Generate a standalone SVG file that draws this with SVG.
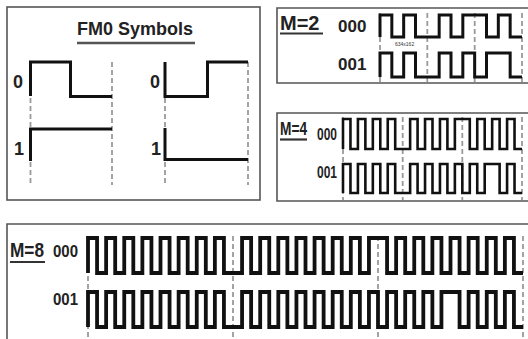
<svg xmlns="http://www.w3.org/2000/svg" width="528" height="339" viewBox="0 0 528 339">
<style>
.frame{fill:none;stroke:#555;stroke-width:1.6}
.lbl{font-family:"Liberation Sans",Arial,sans-serif;font-weight:bold;fill:#222}
.ul{stroke:#333;stroke-width:2.2}
.dash{stroke:#9a9a9a;stroke-width:1.8;stroke-dasharray:5 3;fill:none}
.w{fill:none;stroke:#111;stroke-linejoin:miter;vector-effect:non-scaling-stroke}
.w2{stroke-width:3}
.w4{stroke-width:2.6}
.w8{stroke-width:3.8}
.fm{fill:none;stroke:#111;stroke-width:3}
</style>
<rect width="528" height="339" fill="#fff"/>

<g id="fm0">
<rect class="frame" x="7" y="7" width="253" height="193"/>
<text class="lbl" x="135" y="35" font-size="18" text-anchor="middle">FM0 Symbols</text>
<line x1="77" y1="43" x2="195" y2="43" stroke="#555" stroke-width="2.5"/>
<text class="lbl" x="13" y="88" font-size="18">0</text>
<text class="lbl" x="14" y="155" font-size="18">1</text>
<text class="lbl" x="150" y="88" font-size="18">0</text>
<text class="lbl" x="151" y="155" font-size="18">1</text>
<g class="dash">
<line x1="30.5" y1="98" x2="30.5" y2="185"/>
<line x1="112" y1="62" x2="112" y2="185"/>
<line x1="165" y1="98" x2="165" y2="185"/>
<line x1="248" y1="62" x2="248" y2="185"/>
</g>
<path class="fm" d="M30.5,96 V62 H70.5 V96.5 H112"/>
<path class="fm" d="M30.5,161 V129 H112"/>
<path class="fm" d="M165,62 V96.5 H207.5 V62 H248"/>
<path class="fm" d="M165,128 V159.5 H248"/>
</g>

<g id="m2">
<path class="frame" d="M528,8 H277 V83 H528"/>
<text class="lbl" x="280" y="30" font-size="20">M=2</text>
<line class="ul" x1="280" y1="33.5" x2="323" y2="33.5"/>
<text class="lbl" x="338" y="32" font-size="17">000</text>
<text class="lbl" x="338" y="70" font-size="17">001</text>
<g class="dash">
<line x1="380" y1="13" x2="380" y2="82"/>
<line x1="427.3" y1="13" x2="427.3" y2="82"/>
<line x1="474.7" y1="13" x2="474.7" y2="82"/>
<line x1="522" y1="13" x2="522" y2="82"/>
</g>
<path class="w w2" transform="translate(380,15) scale(11.833,22)" d="M0,1 V0 H1 V1 H2 V0 H3 V1 H5 V0 H6 V1 H7 V0 H9 V1 H10 V0 H11 V1 H12"/>
<path class="w w2" transform="translate(380,53) scale(11.833,24)" d="M0,1 V0 H1 V1 H2 V0 H3 V1 H5 V0 H6 V1 H7 V0 H8 V1 H9 V0 H11 V1 H12"/>
<text x="395" y="46" font-family="Liberation Sans,Arial,sans-serif" font-size="5" fill="#333">634x162</text>
</g>

<g id="m4">
<path class="frame" d="M528,113 H277 V201 H528"/>
<text class="lbl" x="280" y="135" font-size="18" textLength="27" lengthAdjust="spacingAndGlyphs">M=4</text>
<line class="ul" x1="280" y1="139.5" x2="307" y2="139.5"/>
<text class="lbl" x="317" y="140" font-size="17" textLength="20" lengthAdjust="spacingAndGlyphs">000</text>
<text class="lbl" x="317" y="178" font-size="17" textLength="20" lengthAdjust="spacingAndGlyphs">001</text>
<g class="dash">
<line x1="343" y1="117" x2="343" y2="200"/>
<line x1="402.7" y1="117" x2="402.7" y2="200"/>
<line x1="462.3" y1="117" x2="462.3" y2="200"/>
<line x1="522" y1="117" x2="522" y2="200"/>
</g>
<path class="w w4" transform="translate(343,119) scale(7.458,30)" d="M0,1 V0 H1 V1 H2 V0 H3 V1 H4 V0 H5 V1 H6 V0 H7 V1 H9 V0 H10 V1 H11 V0 H12 V1 H13 V0 H14 V1 H15 V0 H17 V1 H18 V0 H19 V1 H20 V0 H21 V1 H22 V0 H23 V1 H24"/>
<path class="w w4" transform="translate(343,164) scale(7.458,29)" d="M0,1 V0 H1 V1 H2 V0 H3 V1 H4 V0 H5 V1 H6 V0 H7 V1 H9 V0 H10 V1 H11 V0 H12 V1 H13 V0 H14 V1 H15 V0 H16 V1 H17 V0 H18 V1 H19 V0 H21 V1 H22 V0 H23 V1 H24"/>
</g>

<g id="m8">
<path class="frame" d="M528,224 H7 V339"/>
<text class="lbl" x="10" y="257" font-size="21" textLength="34" lengthAdjust="spacingAndGlyphs">M=8</text>
<line class="ul" x1="10" y1="262" x2="45" y2="262" stroke-width="2.6"/>
<text class="lbl" x="53" y="257" font-size="16" textLength="25" lengthAdjust="spacingAndGlyphs">000</text>
<text class="lbl" x="53" y="305" font-size="16" textLength="25" lengthAdjust="spacingAndGlyphs">001</text>
<g class="dash">
<line x1="88" y1="236" x2="88" y2="339"/>
<line x1="233" y1="236" x2="233" y2="339"/>
<line x1="378" y1="236" x2="378" y2="339"/>
<line x1="523" y1="236" x2="523" y2="339"/>
</g>
<path class="w w8" transform="translate(88,238) scale(9.0625,35)" d="M0,1 V0 H1 V1 H2 V0 H3 V1 H4 V0 H5 V1 H6 V0 H7 V1 H8 V0 H9 V1 H10 V0 H11 V1 H12 V0 H13 V1 H14 V0 H15 V1 H17 V0 H18 V1 H19 V0 H20 V1 H21 V0 H22 V1 H23 V0 H24 V1 H25 V0 H26 V1 H27 V0 H28 V1 H29 V0 H30 V1 H31 V0 H33 V1 H34 V0 H35 V1 H36 V0 H37 V1 H38 V0 H39 V1 H40 V0 H41 V1 H42 V0 H43 V1 H44 V0 H45 V1 H46 V0 H47 V1 H48"/>
<path class="w w8" transform="translate(88,292) scale(9.0625,35)" d="M0,1 V0 H1 V1 H2 V0 H3 V1 H4 V0 H5 V1 H6 V0 H7 V1 H8 V0 H9 V1 H10 V0 H11 V1 H12 V0 H13 V1 H14 V0 H15 V1 H17 V0 H18 V1 H19 V0 H20 V1 H21 V0 H22 V1 H23 V0 H24 V1 H25 V0 H26 V1 H27 V0 H28 V1 H29 V0 H30 V1 H31 V0 H32 V1 H33 V0 H34 V1 H35 V0 H36 V1 H37 V0 H38 V1 H39 V0 H41 V1 H42 V0 H43 V1 H44 V0 H45 V1 H46 V0 H47 V1 H48"/>
</g>
</svg>
